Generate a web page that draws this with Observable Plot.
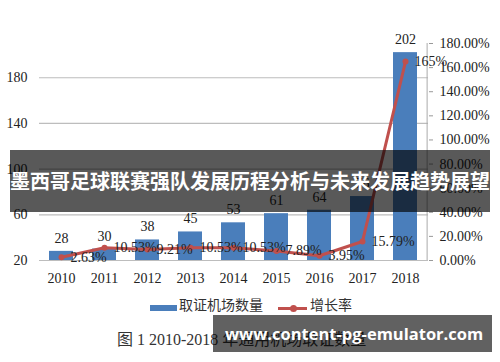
<!DOCTYPE html>
<html>
<head>
<meta charset="utf-8">
<script src="https://cdn.jsdelivr.net/npm/d3@7"></script>
<script src="https://cdn.jsdelivr.net/npm/@observablehq/plot@0.6"></script>
<style>
  html, body { margin: 0; padding: 0; background: #fff; }
  #wrap { position: relative; width: 500px; height: 362px; overflow: hidden; background: #fff; }
  #chart { position: absolute; left: 0; top: 0; }
  .cjk { font-family: "Noto Sans CJK SC", sans-serif; }
  .abs { position: absolute; white-space: nowrap; }
  #legRect { left: 150px; top: 305px; width: 27px; height: 6px; background: #4a7ebb; }
  #legText1 { left: 179px; top: 295px; font-size: 14px; line-height: 18px; color: #333; }
  #legLine { left: 278px; top: 307px; width: 29px; height: 3px; background: #c0504d; }
  #legDot { left: 290px; top: 305px; width: 7px; height: 7px; border-radius: 50%; background: #c0504d; }
  #legText2 { left: 310px; top: 295px; font-size: 14px; line-height: 18px; color: #333; }
  #caption { left: 117px; top: 330px; font-size: 16px; line-height: 20px; color: #333;
             font-family: "Liberation Serif", "Noto Sans CJK SC", serif; }
  #banner { left: 10px; top: 150px; width: 480px; height: 62px; background: rgba(0,0,0,0.65);
            color: #fff; font-weight: 700; font-size: 20px; line-height: 62px; text-align: center; }
  #wm { left: 213px; top: 315px; width: 279px; height: 37px; background: rgba(0,0,0,0.62);
        color: #fff; font-family: "Open Sans", sans-serif; font-weight: 700; font-size: 16.5px;
        line-height: 37px; padding-left: 12px; box-sizing: border-box; overflow: hidden; }
</style>
</head>
<body>
<div id="wrap">
  <div id="chart"></div>
  <div id="legRect" class="abs"></div>
  <div id="legText1" class="abs cjk">取证机场数量</div>
  <div id="legLine" class="abs"></div>
  <div id="legDot" class="abs"></div>
  <div id="legText2" class="abs cjk">增长率</div>
  <div id="caption" class="abs">图 1 2010-2018 年通用机场取证数量</div>
  <div id="banner" class="abs cjk">墨西哥足球联赛强队发展历程分析与未来发展趋势展望</div>
  <div id="wm" class="abs">www.content-pg-emulator.com</div>
</div>
<script>
// ---- data ----
const years = ["2010", "2011", "2012", "2013", "2014", "2015", "2016", "2017", "2018"];
const airportCounts = [28, 30, 38, 45, 53, 61, 64, 76, 202];
const growthRates = [2.63, 10.53, 9.21, 10.53, 10.53, 7.89, 3.95, 15.79, 165];
const leftTicks = [20, 60, 100, 140, 180];
const rightTicks = [0, 20, 40, 60, 80, 100, 120, 140, 160, 180];
const leftDomain = [20, 210];
const rightDomain = [0, 180];

const rows = years.map((year, i) => ({year, count: airportCounts[i], growth: growthRates[i]}));

// secondary axis: map percent onto the primary y scale
const pctToLeft = d3.scaleLinear(rightDomain, leftDomain);

const W = 500, H = 290, ML = 39, MR = 72, MT = 43, MB = 30;
const step = (W - ML - MR) / years.length;

const blue = "#4a7ebb";
const red = "#c0504d";

const chart = Plot.plot({
  width: W,
  height: H,
  marginLeft: ML,
  marginRight: MR,
  marginTop: MT,
  marginBottom: MB,
  style: {
    fontFamily: "'Liberation Serif', 'Times New Roman', serif",
    fontSize: "14px",
    color: "#222",
    background: "transparent",
    overflow: "visible"
  },
  x: {domain: years, paddingInner: 0.44, paddingOuter: 0.22, label: null},
  y: {domain: leftDomain, label: null},
  marks: [
    Plot.gridY(leftTicks, {stroke: "#bdbdbd", strokeOpacity: 1, strokeWidth: 1.2}),
    Plot.axisY(leftTicks, {tickSize: 0, tickPadding: 12, label: null}),
    Plot.axisY(rightTicks.map(p => pctToLeft(p)), {
      anchor: "right", tickSize: 4, tickPadding: 7, label: null, stroke: "#999",
      tickFormat: d => pctToLeft.invert(d).toFixed(2) + "%"
    }),
    Plot.ruleX([years[years.length - 1]], {dx: step / 2, y1: leftDomain[0], y2: leftDomain[1], stroke: "#aaa"}),
    Plot.axisX({tickSize: 0, tickPadding: 13, label: null}),
    Plot.barY(rows, {x: "year", y1: leftDomain[0], y2: "count", fill: blue}),
    Plot.text(rows, {x: "year", y: "count", text: d => String(d.count), dy: -13, fill: "#222"}),
    Plot.line(rows, {x: "year", y: d => pctToLeft(d.growth), stroke: red, strokeWidth: 3}),
    Plot.dot(rows, {x: "year", y: d => pctToLeft(d.growth), r: 3, fill: red}),
    Plot.text(rows, {x: "year", y: d => pctToLeft(d.growth), text: d => d.growth + "%",
                     textAnchor: "start", dx: 9, fill: "#222"})
  ]
});
document.getElementById("chart").appendChild(chart);
</script>
</body>
</html>
